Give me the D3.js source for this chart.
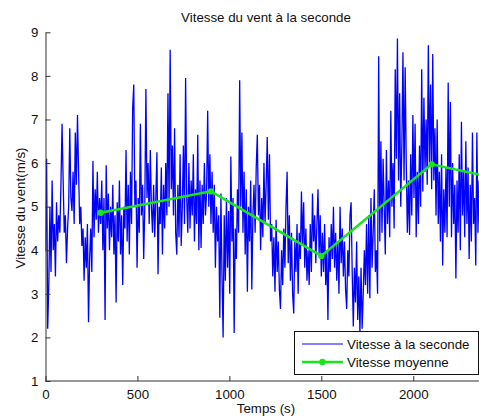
<!DOCTYPE html>
<html>
<head>
<meta charset="utf-8">
<script src="https://cdn.jsdelivr.net/npm/d3@7/dist/d3.min.js"></script>
<style>
  html, body { margin: 0; padding: 0; background: #fff; }
  svg { display: block; }
  text { font-family: "Liberation Sans", Arial, sans-serif; font-size: 13.3px; fill: #111; }
</style>
</head>
<body>
<svg id="fig" width="479" height="420"></svg>
<script>
// Wind speed sampled every PAS seconds (m/s)
const PAS = 6;
const vitesse = [
  4.0, 6.1, 2.2, 3.2, 5.0, 3.5, 5.6, 4.0, 4.6, 3.4,
  5.1, 4.2, 4.8, 4.4, 5.5, 6.9, 5.6, 4.4, 4.8, 3.7,
  4.5, 5.0, 6.8, 5.2, 4.9, 5.8, 4.6, 6.7, 5.5, 7.1,
  5.8, 4.6, 5.0, 4.1, 4.5, 3.3, 4.3, 3.6, 4.6, 2.35,
  3.8, 4.5, 3.5, 6.05, 4.3, 5.4, 4.7, 5.8, 4.4, 5.2,
  4.6, 5.6, 4.0, 5.2, 2.4, 5.95, 4.5, 5.3, 4.0, 5.0,
  4.3, 5.5, 3.9, 4.8, 2.8, 5.1, 4.2, 5.6, 3.9, 4.8,
  3.2, 5.0, 4.5, 6.3, 4.2, 5.5, 3.9, 5.8, 4.6, 7.25,
  7.8, 5.0, 5.6, 3.6, 5.2, 4.4, 6.9, 4.8, 5.5, 3.8,
  5.0, 7.7, 5.2, 6.0, 4.6, 6.3, 5.0, 4.4, 5.5, 4.3,

  5.2, 6.25, 3.45, 5.0, 4.6, 5.9, 3.9, 5.5, 4.5, 6.0,
  4.8, 7.6, 5.0, 8.6, 5.4, 6.4, 4.8, 6.8, 4.4, 3.9,
  5.5, 4.3, 6.2, 4.1, 5.0, 6.4, 4.6, 7.95, 5.2, 4.4,
  6.0, 4.5, 5.6, 4.8, 6.2, 4.2, 5.4, 4.6, 6.65, 4.0,
  5.6, 4.05, 5.5, 4.6, 6.0, 4.8, 5.3, 7.2, 5.0, 6.2,
  4.6, 5.8, 4.4, 5.5, 3.6, 5.0, 4.2, 4.8, 2.45, 5.3,
  3.4, 2.0, 4.8, 3.3, 5.2, 3.6, 4.9, 3.0, 6.15, 4.2,
  5.2, 2.1, 4.5, 3.8, 5.4, 4.4, 7.9, 5.0, 6.7, 4.4,
  5.8, 3.9, 5.4, 3.05, 5.0, 4.2, 5.6, 3.1, 4.8, 5.5,
  4.4, 5.9, 6.65, 4.8, 5.5, 4.0, 5.2, 4.3, 6.0, 4.6,

  5.5, 6.6, 4.7, 6.2, 4.2, 4.6, 3.4, 4.3, 3.05, 4.7,
  3.5, 4.2, 3.1, 2.65, 4.0, 3.2, 4.5, 3.6, 5.0, 5.8,
  3.7, 4.8, 3.3, 4.4, 3.0, 2.55, 4.2, 3.5, 4.6, 3.0,
  4.4, 3.8, 5.35, 4.1, 5.1, 3.6, 4.5, 3.3, 4.0, 3.2,
  4.6, 3.5, 5.3, 4.2, 4.8, 3.7, 4.6, 5.4, 3.9, 4.8,
  3.4, 4.4, 3.5, 4.6, 3.2, 4.0, 2.4, 4.3, 3.5, 4.6,
  3.8, 5.0, 3.6, 4.4, 3.3, 4.2, 3.0, 5.0, 3.7, 4.5,
  3.4, 4.2, 3.1, 2.65, 4.0, 3.4, 4.8, 5.1, 3.5, 2.25,
  3.6, 2.8, 4.2, 2.4, 3.4, 2.1, 3.6, 2.2, 3.0, 4.0,
  3.2, 4.6, 3.0, 4.8, 2.9, 5.2, 3.6, 4.4, 5.4, 3.5,

  4.0, 3.0, 8.45, 4.2, 6.5, 4.4, 6.1, 5.0, 3.9, 6.3,
  4.6, 5.6, 4.3, 7.2, 5.0, 6.0, 4.5, 8.15, 6.1, 8.86,
  5.6, 7.6, 5.0, 6.4, 8.54, 5.6, 8.2, 6.0, 4.4, 5.6,
  4.35, 6.2, 4.8, 7.1, 5.2, 6.9, 4.3, 5.8, 4.6, 6.4,
  5.0, 8.15, 5.35, 7.5, 5.8, 7.0, 5.5, 8.7, 6.0, 7.8,
  5.4, 8.5, 5.6, 6.8, 4.8, 7.0, 4.6, 5.8, 4.2, 6.2,
  3.65, 5.4, 4.4, 5.9, 4.3, 7.85, 5.0, 7.4, 4.3, 6.0,
  4.6, 5.5, 3.35, 5.6, 4.4, 6.2, 4.0, 6.95, 4.8, 5.8,
  4.3, 6.5, 4.6, 5.9, 3.8, 5.5, 4.2, 6.7, 4.6, 5.2,
  3.65, 6.7, 4.4, 5.6, 4.8, 6.0, 4.2, 5.4, 3.9, 5.0
];

// Mean speed over each 600 s window (centre time, value)
const tMoyenne = [300, 900, 1500, 2100, 2400];
const vMoyenne = [4.86, 5.35, 3.87, 5.97, 5.7];

const xTicks = [0, 500, 1000, 1500, 2000];
const yTicks = [1, 2, 3, 4, 5, 6, 7, 8, 9];

const titre = "Vitesse du vent à la seconde";
const xTitre = "Temps (s)";
const yTitre = "Vitesse du vent(m/s)";
const legende = ["Vitesse à la seconde", "Vitesse moyenne"];

const bleu = "#0000ff";
const vert = "#19e619";

const svg = d3.select("#fig");
const W = 479, H = 420;
const gauche = 45.5, haut = 32.3, bas = 381;

const x = d3.scaleLinear().domain([0, 2400]).range([gauche, 486.8]);
const y = d3.scaleLinear().domain([1, 9]).range([bas, haut]);

svg.append("defs").append("clipPath").attr("id", "zone")
  .append("rect").attr("x", gauche).attr("y", haut - 2)
  .attr("width", W - gauche).attr("height", bas - haut + 2);

const trace = svg.append("g").attr("clip-path", "url(#zone)");

// per-second trace
const ligne = d3.line().x((d, i) => x(i * PAS)).y(d => y(d));
trace.append("path").datum(vitesse)
  .attr("d", ligne)
  .attr("fill", "none").attr("stroke", bleu).attr("stroke-width", 1.3)
  .attr("stroke-linejoin", "miter").attr("stroke-miterlimit", 2);

// window means
const moy = tMoyenne.map((t, i) => [t, vMoyenne[i]]);
trace.append("path").datum(moy)
  .attr("d", d3.line().x(d => x(d[0])).y(d => y(d[1])))
  .attr("fill", "none").attr("stroke", vert).attr("stroke-width", 2.5);
trace.selectAll("circle.moy").data(moy).enter().append("circle")
  .attr("class", "moy")
  .attr("cx", d => x(d[0])).attr("cy", d => y(d[1])).attr("r", 3.2)
  .attr("fill", vert);

// axes, ticks pointing inward
const axeX = d3.axisBottom(x).tickValues(xTicks).tickFormat(d3.format("d"))
  .tickSizeInner(-5).tickSizeOuter(0).tickPadding(9);
const gX = svg.append("g").attr("transform", `translate(0,${bas})`).call(axeX);
const axeY = d3.axisLeft(y).tickValues(yTicks).tickFormat(d3.format("d"))
  .tickSizeInner(-5).tickSizeOuter(0).tickPadding(7);
const gY = svg.append("g").attr("transform", `translate(${gauche},0)`).call(axeY);
[gX, gY].forEach(g => {
  g.select(".domain").attr("stroke", "#333").attr("stroke-width", 1);
  g.selectAll(".tick line").attr("stroke", "#333");
  g.selectAll(".tick text").attr("fill", "#111")
    .style("font-family", '"Liberation Sans", Arial, sans-serif').style("font-size", "13.3px");
});
gX.select(".domain").attr("d", `M${gauche},0H${W + 5}`);

// titles
svg.append("text").attr("x", 266).attr("y", 22).attr("text-anchor", "middle").text(titre);
svg.append("text").attr("x", 266).attr("y", 413).attr("text-anchor", "middle").text(xTitre);
svg.append("text").attr("transform", "translate(25,208) rotate(-90)")
  .attr("text-anchor", "middle").text(yTitre);

// legend
const leg = svg.append("g");
leg.append("rect").attr("x", 294.5).attr("y", 331.5).attr("width", 184).attr("height", 43)
  .attr("fill", "#fff").attr("stroke", "#111").attr("stroke-width", 1);
const rangs = [344, 362];
leg.append("line").attr("x1", 302).attr("x2", 343).attr("y1", rangs[0]).attr("y2", rangs[0])
  .attr("stroke", bleu).attr("stroke-width", 1);
leg.append("line").attr("x1", 302).attr("x2", 343).attr("y1", rangs[1]).attr("y2", rangs[1])
  .attr("stroke", vert).attr("stroke-width", 2.5);
leg.append("circle").attr("cx", 322.5).attr("cy", rangs[1]).attr("r", 3.2).attr("fill", vert);
legende.forEach((t, i) => {
  leg.append("text").attr("x", 347).attr("y", rangs[i] + 4.8).text(t);
});
</script>
</body>
</html>
